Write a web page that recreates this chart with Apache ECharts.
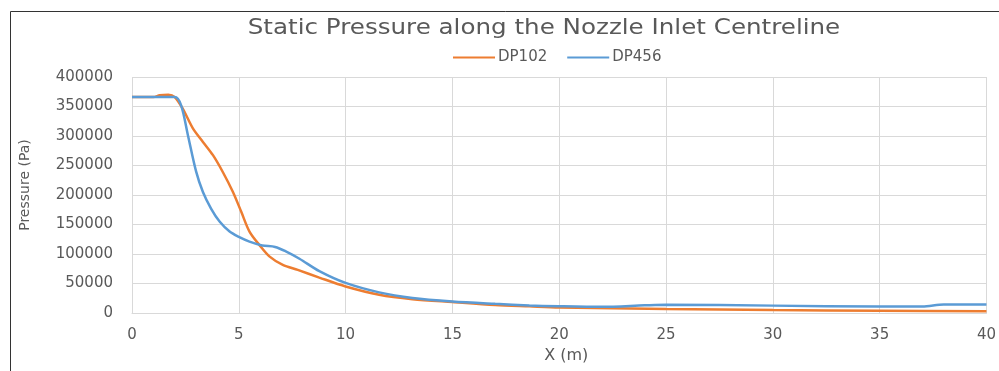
<!DOCTYPE html>
<html>
<head>
<meta charset="utf-8">
<script src="https://cdn.jsdelivr.net/npm/echarts@6/dist/echarts.min.js"></script>
<style>
  html, body { margin: 0; padding: 0; background: #fff; }
  #chart { width: 999px; height: 371px; }
</style>
</head>
<body>
<div id="chart"></div>
<script>
// series names and ticks
const seriesNames = ['DP102', 'DP456'];
const xTicks = [0, 5, 10, 15, 20, 25, 30, 35, 40];
const yTicks = [0, 50000, 100000, 150000, 200000, 250000, 300000, 350000, 400000];

// [x (m), pressure (Pa)]
const dp102 = [
    [0, 366000], [1.0, 366000], [1.3, 369000], [1.7, 370000], [2.0, 366000],
    [2.38, 346000], [2.85, 313000], [3.32, 290000], [3.79, 267500], [4.25, 239000],
    [4.72, 205500], [5.11, 172000], [5.5, 138000], [5.97, 115000], [6.43, 96000],
    [7.06, 81500], [7.76, 73000], [8.77, 60000], [10, 45000], [11.57, 31000],
    [13.13, 23500], [15, 18500], [17, 13500], [18.6, 11300], [20, 9500],
    [25, 6700], [30, 5000], [35, 3900], [40, 2800]
];
const dp456 = [
    [0, 366000], [1, 366000], [2, 366000], [2.3, 352000], [2.62, 301000],
    [3.0, 240000], [3.32, 205000], [3.7, 177000], [4.1, 155000], [4.57, 138000],
    [5, 129000], [5.5, 121000], [6.1, 114500], [6.7, 112000], [7.2, 104500],
    [7.84, 92000], [8.77, 71000], [10, 51000], [11.57, 35000], [13.13, 25500],
    [15, 19500], [17, 15500], [18.6, 12800], [20, 11500], [22, 10500],
    [24, 13000], [25, 14000], [30, 12500], [35, 11000], [37, 11000],
    [38, 14500], [40, 14500]
];

const chart = echarts.init(document.getElementById('chart'));
const textColor = '#595959';
const gridColor = '#d9d9d9';
const font = 'DejaVu Sans';

chart.setOption({
    animation: false,
    backgroundColor: '#fff',
    color: ['#ED7D31', '#5B9BD5'],
    legend: {
        data: seriesNames,
        left: 448,
        top: 45,
        itemWidth: 42,
        itemHeight: 14,
        itemGap: 20,
        icon: 'path://M0,6 L42,6 L42,8 L0,8 Z',
        textStyle: {
            fontFamily: font,
            fontSize: 15,
            color: textColor,
            padding: [0, 0, 0, -2]
        }
    },
    grid: {
        left: 132,
        right: 11,
        top: 77,
        bottom: 58
    },
    xAxis: {
        type: 'value',
        min: xTicks[0],
        max: xTicks[xTicks.length - 1],
        interval: 5,
        name: 'X (m)',
        nameLocation: 'middle',
        nameGap: 33,
        nameTextStyle: { fontFamily: font, fontSize: 16, color: textColor, padding: [0, 0, 0, 14] },
        axisLine: { lineStyle: { color: gridColor, width: 1 } },
        axisTick: { show: false },
        axisLabel: { fontFamily: font, fontSize: 15, color: textColor, margin: 15 },
        splitLine: { show: true, lineStyle: { color: gridColor, width: 1 } }
    },
    yAxis: {
        type: 'value',
        min: yTicks[0],
        max: yTicks[yTicks.length - 1],
        interval: 50000,
        name: 'Pressure (Pa)',
        nameLocation: 'middle',
        nameRotate: 90,
        nameGap: 100,
        nameTextStyle: { fontFamily: font, fontSize: 14, color: textColor, padding: [0, 0, 0, 20] },
        axisLine: { show: false },
        axisTick: { show: false },
        axisLabel: {
            fontFamily: font,
            fontSize: 15,
            color: textColor,
            margin: 19,
            formatter: function (v) { return String(v); }
        },
        splitLine: { show: true, lineStyle: { color: gridColor, width: 1 } }
    },
    graphic: [
        {
            // outer chart frame
            type: 'rect',
            shape: { x: 10.5, y: 11.5, width: 1000, height: 400 },
            style: { fill: 'none', stroke: '#333', lineWidth: 1 },
            silent: true
        },
        {
            // title, stretched a little wider like the source picture
            type: 'text',
            x: 544,
            y: 18,
            scaleX: 1.17,
            style: {
                text: 'Static Pressure along the Nozzle Inlet Centreline',
                fontFamily: font,
                fontSize: 21,
                fill: textColor,
                align: 'center',
                verticalAlign: 'top'
            },
            silent: true
        }
    ],
    series: [
        {
            name: seriesNames[0],
            type: 'line',
            data: dp102,
            smooth: 0.3,
            showSymbol: false,
            lineStyle: { width: 2.5 }
        },
        {
            name: seriesNames[1],
            type: 'line',
            data: dp456,
            smooth: 0.3,
            showSymbol: false,
            lineStyle: { width: 2.5 }
        }
    ]
});

window.addEventListener('resize', function() {
    chart.resize();
});
</script>
</body>
</html>
